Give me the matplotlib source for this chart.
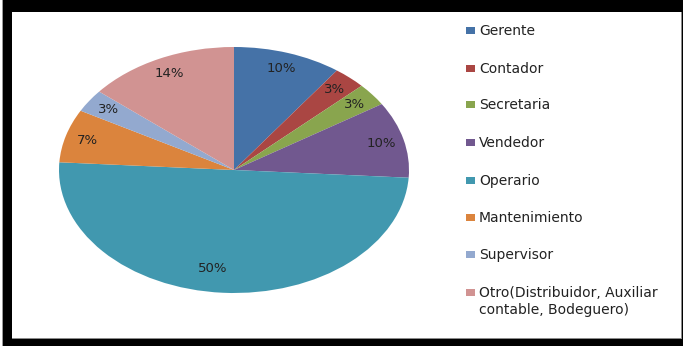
import matplotlib
matplotlib.use("Agg")
import matplotlib.pyplot as plt
from matplotlib.patches import Rectangle

categories = ["Gerente", "Contador", "Secretaria", "Vendedor", "Operario",
              "Mantenimiento", "Supervisor",
              "Otro(Distribuidor, Auxiliar\ncontable, Bodeguero)"]
shares = [10, 3, 3, 10, 50, 7, 3, 14]
colors = ["#4572A7", "#AA4643", "#89A54E", "#71588F", "#4198AF",
          "#DB843D", "#93A9CF", "#D19392"]

W, H = 685, 346
fig = plt.figure(figsize=(W / 100, H / 100), dpi=100)
fig.patch.set_facecolor("white")

def px_rect(x0, y0, x1, y1, z=-10, **kw):
    # rectangle given in pixel coordinates measured from the top-left corner
    fig.patches.append(Rectangle((x0 / W, 1 - y1 / H), (x1 - x0) / W, (y1 - y0) / H,
                                 transform=fig.transFigure, figure=fig,
                                 zorder=z, **kw))

# dark frame around the chart area
px_rect(2, 0, 3, H, facecolor="#9a9a9a", edgecolor="none")
px_rect(3, 0, 683, H, facecolor="black", edgecolor="none")
px_rect(12, 12, 681, 338, facecolor="white", edgecolor="none")
px_rect(681, 12, 682, 339, facecolor="#8a8a8a", edgecolor="none")
px_rect(12, 338, 682, 339, facecolor="#8a8a8a", edgecolor="none")

# elliptical pie: axes box spans the ellipse, aspect left free
cx, cy, rx, ry = 234, 170, 175, 123
ax = fig.add_axes([(cx - rx) / W, 1 - (cy + ry) / H, 2 * rx / W, 2 * ry / H])
ax.patch.set_alpha(0)
wedges, texts, autotexts = ax.pie(
    shares, colors=colors, startangle=90, counterclock=False,
    autopct=lambda p: f"{p:.0f}%", pctdistance=0.87,
    wedgeprops=dict(linewidth=0),
    textprops=dict(fontsize=9.5, color="#222222"))
# the large slice carries its label a little further in
autotexts[4].set_position((-0.12, -0.80))
ax.set_aspect("auto")
ax.set_xlim(-1, 1)
ax.set_ylim(-1, 1)
ax.axis("off")

# legend entries drawn down the right side
leg_y = [31, 69, 105, 143, 181, 218, 255, 293]
for name, col, y in zip(categories, colors, leg_y):
    px_rect(466, y - 4, 475, y + 3, z=5, facecolor=col, edgecolor="none")
    fig.text(479 / W, 1 - (y - 7) / H, name, fontsize=10, color="#222222",
             ha="left", va="top", linespacing=1.3)

fig.savefig("out.png", dpi=100)
